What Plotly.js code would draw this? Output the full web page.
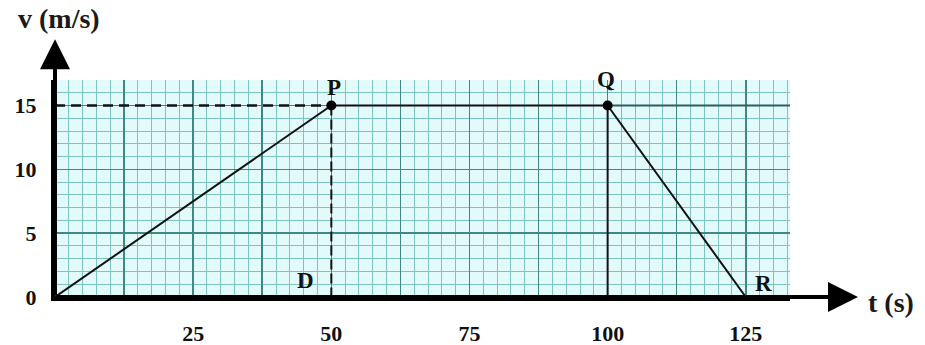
<!DOCTYPE html>
<html>
<head>
<meta charset="utf-8">
<script src="https://cdn.plot.ly/plotly-3.0.1.min.js"></script>
<style>html,body{margin:0;padding:0;background:#fff;}#chart{width:925px;height:345px;}</style>
</head>
<body>
<div id="chart"></div>
<script>
// ---- data ----
var tPoints = [0, 50, 100, 125];          // time (s): O, P, Q, R
var vPoints = [0, 15, 15, 0];             // velocity (m/s)
var pointNames = ['O', 'P', 'Q', 'R'];
var dPointT = [50];                        // foot of P on t axis
var dPointV = [0];
var dPointName = ['D'];
var gridEndT = 133;                        // right edge of the grid paper
var gridTopV = 17;                         // top edge of the grid paper
var tAxisEnd = 145.3;                      // arrow tip on t axis
var vAxisEnd = 20.2;                       // arrow tip on v axis
var xTickVals = [12.5, 25, 37.5, 50, 62.5, 75, 87.5, 100, 112.5, 125];
var xTickText = ['', '25', '', '50', '', '75', '', '100', '', '125'];
var yTickVals = [0, 5, 10, 15];
var yTickText = ['0', '5', '10', '15'];

var serif = 'Liberation Serif, Times New Roman, serif';
var traces = [
  // O -> P
  {x: [tPoints[0], tPoints[1]], y: [vPoints[0], vPoints[1]], mode: 'lines',
   line: {color: '#111', width: 2}},
  // dashed v = 15 from axis to P
  {x: [tPoints[0], tPoints[1]], y: [vPoints[1], vPoints[1]], mode: 'lines',
   line: {color: '#111', width: 2.5, dash: '10px,6px'}},
  // P -> Q
  {x: [tPoints[1], tPoints[2]], y: [vPoints[1], vPoints[2]], mode: 'lines',
   line: {color: '#111', width: 2}},
  // continuation of v=15 past Q
  {x: [tPoints[2], gridEndT], y: [vPoints[2], vPoints[2]], mode: 'lines',
   line: {color: '#2f5f60', width: 2}},
  // dashed P -> D
  {x: [dPointT[0], dPointT[0]], y: [vPoints[1], dPointV[0]], mode: 'lines',
   line: {color: '#111', width: 2, dash: '10px,4px'}},
  // Q vertical
  {x: [tPoints[2], tPoints[2]], y: [vPoints[2], 0], mode: 'lines',
   line: {color: '#111', width: 2}},
  // Q -> R
  {x: [tPoints[2], tPoints[3]], y: [vPoints[2], vPoints[3]], mode: 'lines',
   line: {color: '#111', width: 2}},
  // dots at P and Q
  {x: [tPoints[1], tPoints[2]], y: [vPoints[1], vPoints[2]], mode: 'markers',
   marker: {color: '#000', size: 10}, cliponaxis: false}
];

var lblFont = {family: serif, size: 23, color: '#111', weight: 'bold'};
var annotations = [
  {x: tPoints[1], y: vPoints[1], text: '<b>' + pointNames[1] + '</b>', showarrow: false, xshift: 3, yshift: 18, font: lblFont},
  {x: tPoints[2], y: vPoints[2], text: '<b>' + pointNames[2] + '</b>', showarrow: false, xshift: -2, yshift: 26, font: lblFont},
  {x: dPointT[0], y: dPointV[0], text: '<b>' + dPointName[0] + '</b>', showarrow: false, xshift: -26, yshift: 17, font: lblFont},
  {x: tPoints[3], y: vPoints[3], text: '<b>' + pointNames[3] + '</b>', showarrow: false, xshift: 18, yshift: 14, font: lblFont},
  // axes arrows
  {x: tAxisEnd, y: 0, ax: 0, ay: 0, xref: 'x', yref: 'y', axref: 'x', ayref: 'y', text: '',
   showarrow: true, arrowhead: 2, arrowsize: 1.5, arrowwidth: 4, arrowcolor: '#000', standoff: 0, startstandoff: 0},
  {x: 0, y: vAxisEnd, ax: 0, ay: 0, xref: 'x', yref: 'y', axref: 'x', ayref: 'y', text: '',
   showarrow: true, arrowhead: 2, arrowsize: 1.5, arrowwidth: 4, arrowcolor: '#000', standoff: 0, startstandoff: 0},
  // axis titles
  {xref: 'paper', yref: 'paper', x: 0.005, y: 1.283, xanchor: 'center', yanchor: 'middle',
   text: '<b>v (m/s)</b>', showarrow: false, font: {family: serif, size: 28, color: '#1a1a1a'}},
  {xref: 'paper', yref: 'paper', x: 1.104, y: -0.025, xanchor: 'left', yanchor: 'middle',
   text: '<b>t (s)</b>', showarrow: false, font: {family: serif, size: 28, color: '#1a1a1a'}}
];

var layout = {
  width: 925, height: 345,
  margin: {l: 55, r: 135, t: 80, b: 48},
  paper_bgcolor: '#ffffff',
  plot_bgcolor: '#e2fafa',
  showlegend: false,
  xaxis: {
    range: [0, gridEndT], tickmode: 'array', tickvals: xTickVals, ticktext: xTickText,
    showgrid: true, gridcolor: '#3f8884', gridwidth: 1.5,
    minor: {dtick: 2.5, showgrid: true, gridcolor: '#7cc4bf', gridwidth: 1},
    zeroline: false, showline: true, linecolor: '#000', linewidth: 4,
    ticks: 'outside', ticklen: 14, tickcolor: 'rgba(0,0,0,0)',
    tickfont: {family: serif, size: 22, color: '#111', weight: 'bold'},
    fixedrange: true
  },
  yaxis: {
    range: [0, gridTopV], tickmode: 'array', tickvals: yTickVals, ticktext: yTickText,
    showgrid: true, gridcolor: '#3f8884', gridwidth: 1.5,
    minor: {dtick: 1, showgrid: true, gridcolor: '#7cc4bf', gridwidth: 1},
    zeroline: false, showline: true, linecolor: '#000', linewidth: 4,
    ticks: 'outside', ticklen: 10, tickcolor: 'rgba(0,0,0,0)',
    tickfont: {family: serif, size: 22, color: '#111', weight: 'bold'},
    fixedrange: true
  },
  annotations: annotations
};

Plotly.newPlot('chart', traces, layout, {displayModeBar: false, staticPlot: true});
</script>
</body>
</html>
